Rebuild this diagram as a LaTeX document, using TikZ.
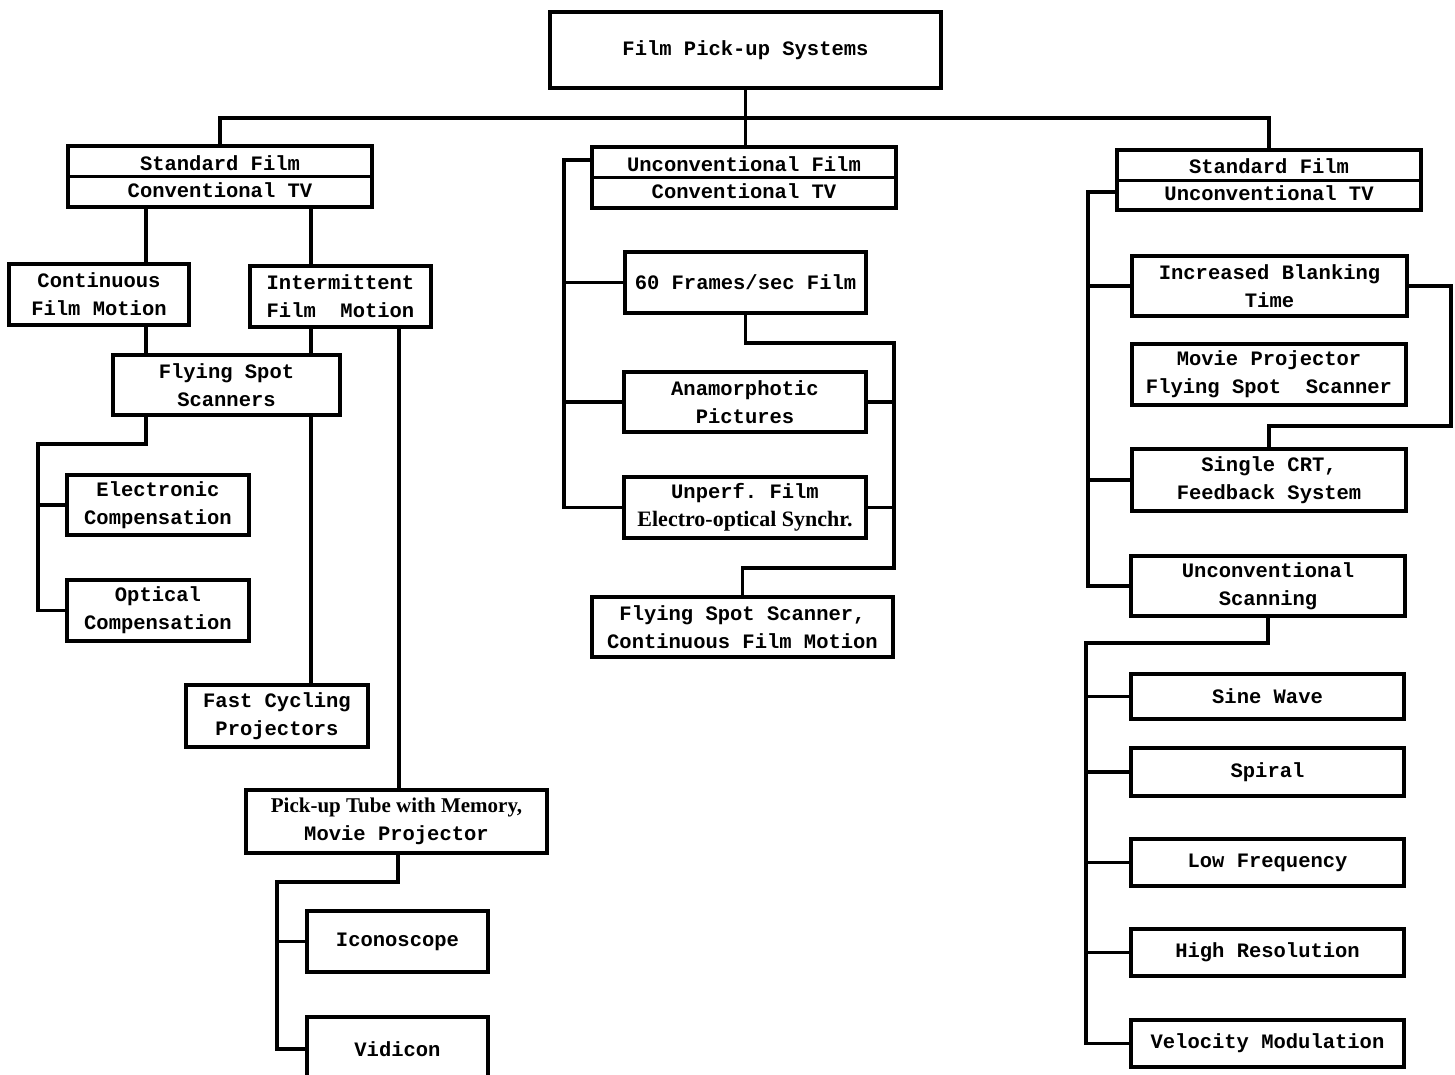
\documentclass[tikz,border=0pt]{standalone}
\usepackage{fontspec}
\setmonofont{Liberation Mono}
\newfontfamily\pfont{Liberation Serif}
\tikzset{
  bx/.style={draw, line width=3.2pt, inner sep=0pt, align=center,
    font=\ttfamily\bfseries\fontsize{20.5}{28}\selectfont},
  dbx/.style={bx, font=\ttfamily\bfseries\fontsize{20.5}{27}\selectfont},
  ln/.style={line width=3.2pt, line cap=rect},
  dv/.style={line width=3pt}
}
\begin{document}
\begin{tikzpicture}[x=1pt,y=-1pt]
\useasboundingbox (0,0) rectangle (1455,1074);
\fill[white] (0,0) rectangle (1455,1074);
\clip (0,0) rectangle (1455,1074);

% ---- boxes ----
\node[bx, line width=4pt, minimum width=391pt, minimum height=76pt] (top) at (745.5,50) {\raisebox{-7pt}{Film Pick-up Systems}};

\node[dbx, minimum width=304pt, minimum height=61pt] (A) at (220,176.5) {Standard Film\\Conventional TV};
\node[dbx, minimum width=304pt, minimum height=61pt] (B) at (744,177.5) {Unconventional Film\\Conventional TV};
\node[dbx, minimum width=304pt, minimum height=60pt] (C) at (1269,180) {Standard Film\\Unconventional TV};

% left column
\node[bx, minimum width=180pt, minimum height=61pt] (cont) at (99,294.5) {Continuous\\Film Motion};
\node[bx, minimum width=181pt, minimum height=61pt] (int) at (340.5,296.5) {Intermittent\\Film\ \ Motion};
\node[bx, minimum width=227pt, minimum height=60pt] (fss) at (226.5,385) {Flying Spot\\Scanners};
\node[bx, minimum width=182pt, minimum height=60pt] (elec) at (158,505) {Electronic\\Compensation};
\node[bx, minimum width=182pt, minimum height=61pt] (opt) at (158,610.5) {Optical\\Compensation};
\node[bx, minimum width=182pt, minimum height=62pt] (fast) at (277,716) {Fast Cycling\hspace{22pt}\\Projectors\hspace{22pt}};
\node[bx, minimum width=301pt, minimum height=63pt] (pick) at (396.5,821.5) {{\pfont\bfseries\fontsize{21}{28}\selectfont Pick-up Tube with Memory,}\\Movie Projector\hspace{24pt}};
\node[bx, minimum width=181pt, minimum height=61pt] (icon) at (397.5,941.5) {Iconoscope};
\node[bx, minimum width=181pt, minimum height=64pt] (vid) at (397.5,1049) {Vidicon};

% middle column
\node[bx, minimum width=241pt, minimum height=61pt] (f60) at (745.5,282.5) {60 Frames/sec Film};
\node[bx, minimum width=242pt, minimum height=60pt] (ana) at (745,402) {Anamorphotic\\Pictures};
\node[bx, minimum width=242pt, minimum height=61pt] (unp) at (745,507.5) {Unperf. Film\\{\pfont\fontsize{22}{28}\selectfont Electro-optical Synchr.}};
\node[bx, minimum width=301pt, minimum height=60pt] (fsc) at (742.5,627) {Flying Spot Scanner,\\Continuous Film Motion};

% right column
\node[bx, minimum width=275pt, minimum height=60pt] (inc) at (1269.5,286) {Increased Blanking\\Time};
\node[bx, minimum width=274pt, minimum height=61pt] (mov) at (1269,374.5) {Movie Projector\\Flying Spot\ \ Scanner};
\node[bx, minimum width=274pt, minimum height=62pt] (crt) at (1269,480) {Single CRT,\\Feedback System};
\node[bx, minimum width=274pt, minimum height=60pt] (usc) at (1268,586) {Unconventional\\Scanning};
\node[bx, minimum width=273pt, minimum height=45pt] (sine) at (1267.5,696.5) {Sine Wave};
\node[bx, minimum width=273pt, minimum height=48pt] (spir) at (1267.5,772) {Spiral};
\node[bx, minimum width=273pt, minimum height=47pt] (lowf) at (1267.5,862.5) {Low Frequency};
\node[bx, minimum width=273pt, minimum height=47pt] (high) at (1267.5,952.5) {High Resolution};
\node[bx, minimum width=273pt, minimum height=47pt] (vel) at (1267.5,1043.5) {Velocity Modulation};

% dividers of the double boxes
\draw[dv] (A.west) -- (A.east);
\draw[dv] (B.west) -- (B.east);
\draw[dv] (C.west) -- (C.east);

% ---- connectors ----
\coordinate (bus) at (745.5,118);
\draw[ln] (top.south) -- (bus);
\draw[ln] (A.north) |- (bus) -| (C.north);
\draw[ln] (bus) -- (bus |- B.north);

% left column
\coordinate (a1) at (146,0);
\coordinate (a2) at (311,0);
\coordinate (a3) at (399,0);
\draw[ln] (A.south -| a1) -- (cont.north -| a1);
\draw[ln] (A.south -| a2) -- (int.north -| a2);
\draw[ln] (cont.south -| a1) -- (fss.north -| a1);
\draw[ln] (int.south -| a2) -- (fss.north -| a2);
\coordinate (j1) at (146,444);
\coordinate (lb) at (38,444);
\draw[ln] (fss.south -| a1) -- (j1) -- (lb) -- (lb |- opt.west) -- (opt.west);
\draw[ln] (lb |- elec.west) -- (elec.west);
\draw[ln] (fss.south -| a2) -- (fast.north -| a2);
\draw[ln] (int.south -| a3) -- (pick.north -| a3);
\coordinate (pj) at (398,882);
\coordinate (pl) at (277,882);
\draw[ln] (pick.south -| pj) -- (pj) -- (pl) -- (pl |- vid.west) -- (vid.west);
\draw[ln] (pl |- icon.west) -- (icon.west);

% middle column
\coordinate (mb) at (564,160);
\draw[ln] (B.west |- mb) -- (mb) -- (mb |- unp.west) -- (unp.west);
\draw[ln] (mb |- f60.west) -- (f60.west);
\draw[ln] (mb |- ana.west) -- (ana.west);
\coordinate (mr1) at (894,343);
\coordinate (mr2) at (894,568);
\draw[ln] (f60.south) -- (f60.south |- mr1) -- (mr1) -- (mr2) -- (mr2 -| fsc.north) -- (fsc.north);
\draw[ln] (ana.east) -- (ana.east -| mr1);
\draw[ln] (unp.east) -- (unp.east -| mr1);

% right column
\coordinate (rb) at (1088,192);
\draw[ln] (C.west |- rb) -- (rb) -- (rb |- usc.west) -- (usc.west);
\draw[ln] (rb |- inc.west) -- (inc.west);
\draw[ln] (rb |- crt.west) -- (crt.west);
\coordinate (rr) at (1451,426);
\draw[ln] (inc.east) -- (inc.east -| rr) -- (rr) -- (rr -| crt.north) -- (crt.north);
\coordinate (rb2) at (1086,643);
\draw[ln] (usc.south) -- (usc.south |- rb2) -- (rb2) -- (rb2 |- vel.west) -- (vel.west);
\draw[ln] (rb2 |- sine.west) -- (sine.west);
\draw[ln] (rb2 |- spir.west) -- (spir.west);
\draw[ln] (rb2 |- lowf.west) -- (lowf.west);
\draw[ln] (rb2 |- high.west) -- (high.west);
\end{tikzpicture}
\end{document}
